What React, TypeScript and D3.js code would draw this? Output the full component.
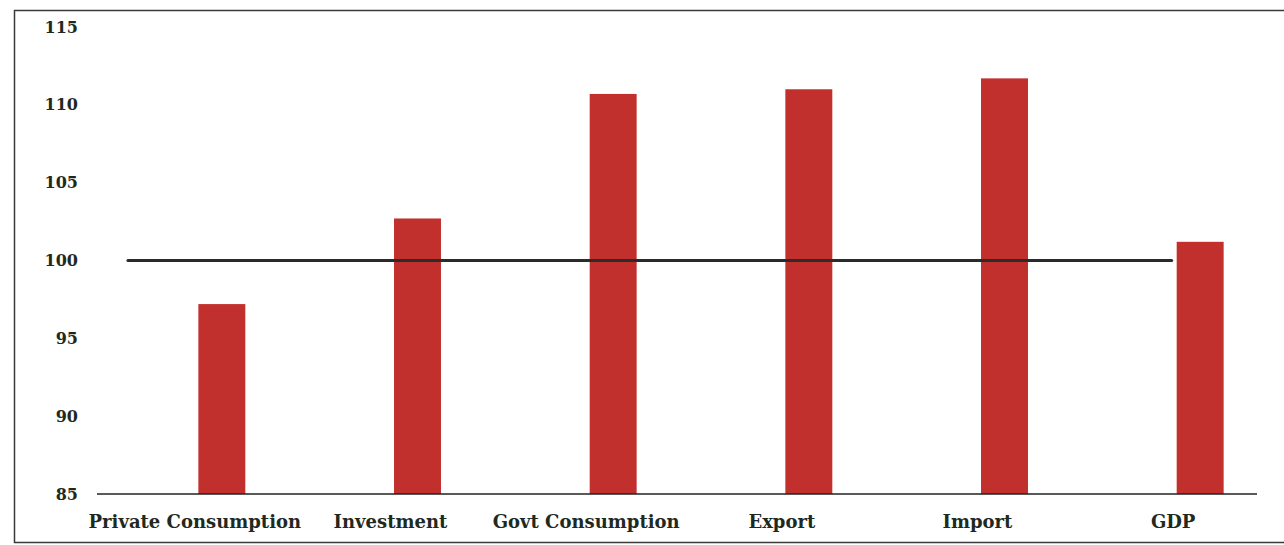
import React, { useRef, useEffect } from 'react';
import * as d3 from 'd3';

const categories = ['Private Consumption', 'Investment', 'Govt Consumption', 'Export', 'Import', 'GDP'];
const values = [97.2, 102.7, 110.7, 111.0, 111.7, 101.2];
const yTicks = [85, 90, 95, 100, 105, 110, 115];
const refValue = 100;

const W = 1284;
const H = 545;

const App: React.FC = () => {
  const svgRef = useRef<SVGSVGElement>(null);

  useEffect(() => {
    document.body.style.margin = '0';
    if (!svgRef.current) return;
    const svg = d3.select(svgRef.current);
    svg.selectAll('*').remove();

    const x = d3.scaleBand()
      .domain(categories)
      .range([124, 1298])
      .paddingInner(0.76)
      .paddingOuter(0.38);

    const y = d3.scaleLinear().domain([85, 115]).range([494, 27]);

    // Frame
    svg.append('rect')
      .attr('x', 14.5).attr('y', 10.5)
      .attr('width', 1290).attr('height', 532)
      .attr('fill', 'none')
      .attr('stroke', '#3a3a3a')
      .attr('stroke-width', 1.5);

    // Bars
    svg.append('g')
      .selectAll('rect')
      .data(categories)
      .join('rect')
      .attr('x', d => x(d)!)
      .attr('y', (d, i) => y(values[i]))
      .attr('width', x.bandwidth())
      .attr('height', (d, i) => y(85) - y(values[i]))
      .attr('fill', '#c1302c');

    // Baseline
    svg.append('line')
      .attr('x1', 97).attr('x2', 1257)
      .attr('y1', y(85)).attr('y2', y(85))
      .attr('stroke', '#222')
      .attr('stroke-width', 1.5);

    // Reference line at 100
    const x0 = x(categories[0])! - x.step() * 0.36;
    const x1 = x(categories[categories.length - 1])! - 5;
    svg.append('line')
      .attr('x1', x0).attr('x2', x1)
      .attr('y1', y(refValue)).attr('y2', y(refValue))
      .attr('stroke', '#2b2b2b')
      .attr('stroke-width', 3)
      .attr('stroke-linecap', 'round');

    // Y tick labels
    svg.append('g')
      .selectAll('text')
      .data(yTicks)
      .join('text')
      .attr('x', 78)
      .attr('y', d => y(d))
      .attr('dy', '0.35em')
      .attr('text-anchor', 'end')
      .attr('font-family', 'DejaVu Serif')
      .attr('font-weight', 'bold')
      .attr('font-size', '16px')
      .attr('fill', '#1f2a1f')
      .text(d => d);

    // Category labels
    svg.append('g')
      .selectAll('text')
      .data(categories)
      .join('text')
      .attr('x', d => x(d)! + x.bandwidth() / 2 - 27)
      .attr('y', 522)
      .attr('dy', '0.35em')
      .attr('text-anchor', 'middle')
      .attr('font-family', 'DejaVu Serif')
      .attr('font-weight', 'bold')
      .attr('font-size', '18px')
      .attr('fill', '#1f2a1f')
      .text(d => d);
  }, []);

  return <svg ref={svgRef} width={W} height={H} style={{ display: 'block', background: '#fff' }} />;
};

export default App;
